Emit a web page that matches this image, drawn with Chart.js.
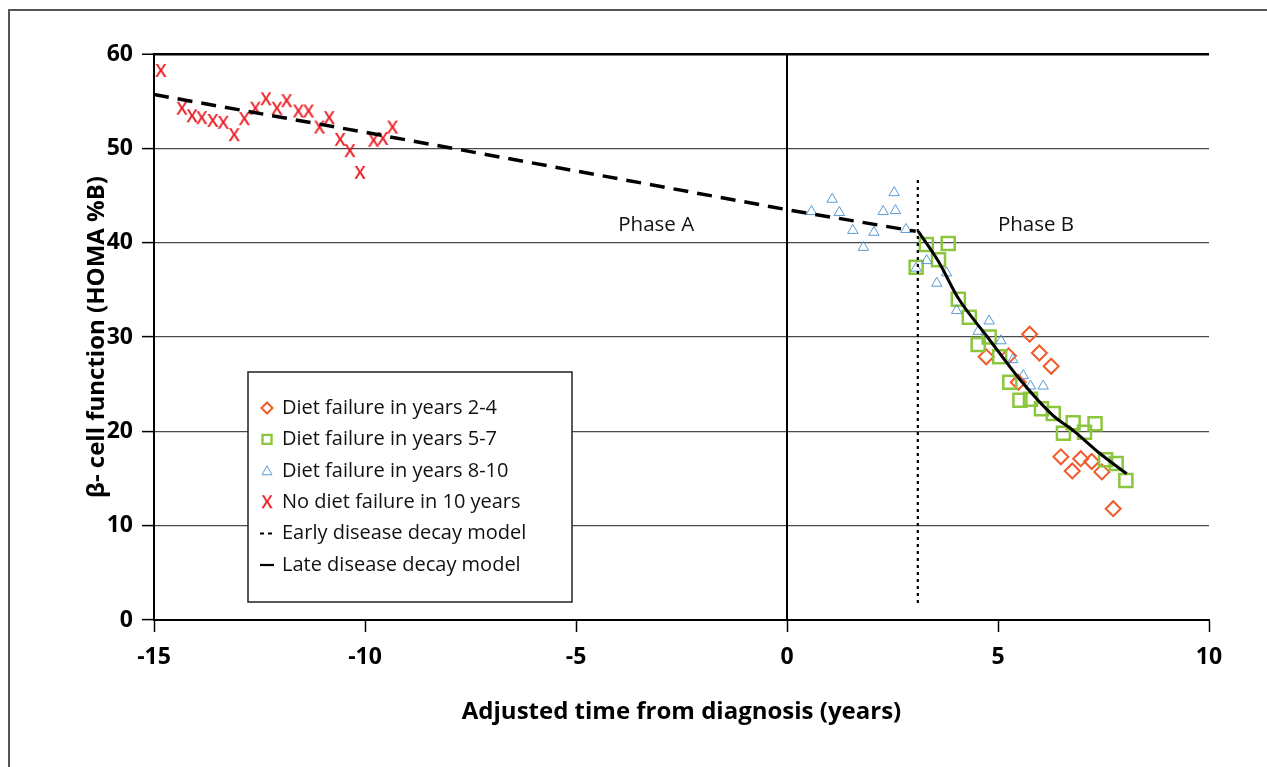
<!DOCTYPE html>
<html lang="en">
<head>
<meta charset="UTF-8" />
<title>Beta-cell function decay</title>
<script src="https://cdn.jsdelivr.net/npm/chart.js"></script>
<style>
  html, body { margin: 0; padding: 0; background: #fff; }
  #wrap { position: relative; width: 1267px; height: 767px; }
</style>
</head>
<body>
<div id="wrap"><canvas id="betaChart" width="1267" height="767"></canvas></div>
<script>
// values
const xTicks = [-15, -10, -5, 0, 5, 10];
const yTicks = [0, 10, 20, 30, 40, 50, 60];

const noFailX = [-14.84, -14.34, -14.10, -13.87, -13.61, -13.36, -13.10, -12.86, -12.60, -12.35, -12.09,
                 -11.86, -11.58, -11.34, -11.08, -10.85, -10.59, -10.36, -10.12, -9.80, -9.58, -9.35];
const noFailY = [58.2, 54.2, 53.4, 53.2, 52.9, 52.7, 51.4, 53.1, 54.2, 55.2, 54.2,
                 55.0, 53.9, 53.9, 52.2, 53.2, 50.9, 49.7, 47.4, 50.8, 51.0, 52.2];

const fail810X = [0.58, 1.07, 1.24, 1.56, 1.81, 2.06, 2.28, 2.54, 2.57, 2.82, 3.06,
                  3.31, 3.55, 3.78, 4.02, 4.53, 4.79, 5.07, 5.35, 5.60, 5.77, 6.07];
const fail810Y = [43.3, 44.6, 43.2, 41.3, 39.5, 41.1, 43.3, 45.3, 43.4, 41.4, 37.3,
                  38.1, 35.7, 36.8, 32.8, 30.6, 31.7, 29.6, 27.6, 25.9, 24.8, 24.8];

const fail57X = [3.06, 3.30, 3.59, 3.82, 4.06, 4.32, 4.53, 4.79, 5.04, 5.28, 5.52,
                 5.77, 6.03, 6.31, 6.55, 6.78, 7.05, 7.30, 7.55, 7.80, 8.03];
const fail57Y = [37.4, 39.8, 38.2, 39.9, 34.0, 32.1, 29.2, 30.0, 27.9, 25.2, 23.3,
                 23.4, 22.4, 21.9, 19.8, 20.9, 19.9, 20.8, 17.0, 16.6, 14.8];

const fail24X = [4.72, 5.25, 5.48, 5.75, 5.98, 6.26, 6.49, 6.76, 6.96, 7.22, 7.46, 7.73];
const fail24Y = [27.9, 28.0, 25.2, 30.3, 28.3, 26.9, 17.3, 15.8, 17.1, 16.8, 15.7, 11.8];

const earlyX = [-15, -10, -5, 0, 3.05];
const earlyY = [55.7, 51.7, 47.6, 43.5, 41.2];

const lateX = [3.11, 3.59, 4.06, 4.75, 5.5, 6.3, 6.78, 7.4, 8.05];
const lateY = [41.2, 38.0, 34.1, 30.0, 25.6, 21.7, 20.1, 17.7, 15.5];

const diagnosisX = [0, 0];
const diagnosisY = [0, 60];
const phaseSplitX = [3.1, 3.1];
const phaseSplitY = [1.8, 47];

const phaseLabels = ['Phase A', 'Phase B'];
const phaseLabelX = [-3.1, 5.9];
const phaseLabelY = [41.9, 41.9];

const seriesNames = ['Diet failure in years 2-4', 'Diet failure in years 5-7', 'Diet failure in years 8-10',
                     'No diet failure in 10 years', 'Early disease decay model', 'Late disease decay model'];

const pts = (xs, ys) => xs.map((x, i) => ({ x: x, y: ys[i] }));

// red letter X used as marker
function letterX() {
  const c = document.createElement('canvas');
  c.width = 16; c.height = 20;
  const g = c.getContext('2d');
  g.fillStyle = '#ed1c24';
  g.font = '600 18px "Open Sans"';
  g.textAlign = 'center';
  g.textBaseline = 'alphabetic';
  g.fillText('X', 8, 16.4);
  return c;
}
const xMark = letterX();

const ORANGE = '#f15a29', GREEN = '#8cc63f', BLUE = '#5b9bd5', RED = '#ed1c24';

function marker(c, kind, x, y) {
  c.save();
  c.beginPath();
  if (kind === 'diamond') {
    c.strokeStyle = ORANGE; c.lineWidth = 2;
    c.moveTo(x, y - 5.5); c.lineTo(x + 5.5, y); c.lineTo(x, y + 5.5); c.lineTo(x - 5.5, y); c.closePath();
    c.stroke();
  } else if (kind === 'square') {
    c.strokeStyle = GREEN; c.lineWidth = 2.4;
    c.rect(x - 4.5, y - 4.5, 9, 9);
    c.stroke();
  } else if (kind === 'triangle') {
    c.strokeStyle = BLUE; c.lineWidth = 1;
    c.moveTo(x, y - 5); c.lineTo(x + 5, y + 4); c.lineTo(x - 5, y + 4); c.closePath();
    c.stroke();
  } else if (kind === 'x') {
    c.drawImage(xMark, x - 8, y - 10);
  } else if (kind === 'dash') {
    c.strokeStyle = '#000'; c.lineWidth = 2;
    c.moveTo(260, y); c.lineTo(264, y); c.moveTo(268, y); c.lineTo(272, y);
    c.stroke();
  } else {
    c.strokeStyle = '#000'; c.lineWidth = 2.2;
    c.moveTo(260, y); c.lineTo(274, y);
    c.stroke();
  }
  c.restore();
}

const decor = {
  id: 'decor',
  beforeDraw(chart) {
    const c = chart.ctx;
    c.save();
    c.fillStyle = '#fff';
    c.fillRect(0, 0, chart.width, chart.height);
    c.strokeStyle = '#555';
    c.lineWidth = 2;
    c.beginPath();
    c.moveTo(9, chart.height); c.lineTo(9, 10); c.lineTo(chart.width, 10);
    c.stroke();
    c.restore();
  },
  afterDatasetsDraw(chart) {
    const c = chart.ctx, sx = chart.scales.x, sy = chart.scales.y;
    c.save();
    c.fillStyle = '#111';
    c.font = '20.5px "Open Sans"';
    c.textAlign = 'center';
    c.textBaseline = 'middle';
    phaseLabels.forEach((t, i) => c.fillText(t, sx.getPixelForValue(phaseLabelX[i]), sy.getPixelForValue(phaseLabelY[i])));
    c.restore();
  },
  afterDraw(chart) {
    const c = chart.ctx;
    c.save();
    c.fillStyle = '#fff';
    c.strokeStyle = '#222';
    c.lineWidth = 1.5;
    c.fillRect(248, 372, 324, 230);
    c.strokeRect(248, 372, 324, 230);
    const kinds = ['diamond', 'square', 'triangle', 'x', 'dash', 'line'];
    c.font = '20px "Open Sans"';
    c.textBaseline = 'middle';
    seriesNames.forEach((name, i) => {
      const y = 408 + i * 31.4;
      marker(c, kinds[i], 267, y);
      c.fillStyle = '#111';
      c.fillText(name, 282, y);
    });
    c.restore();
  }
};

const ctx = document.getElementById('betaChart').getContext('2d');
new Chart(ctx, {
  type: 'scatter',
  data: {
    datasets: [
      { label: seriesNames[5], data: pts(lateX, lateY), showLine: true, borderColor: '#000', borderWidth: 3,
        pointRadius: 0, tension: 0.4, cubicInterpolationMode: 'monotone', order: 0 },
      { label: seriesNames[4], data: pts(earlyX, earlyY), showLine: true, borderColor: '#000', borderWidth: 3.5,
        borderDash: [15, 9], pointRadius: 0, tension: 0, order: 0 },
      { label: 'diagnosis', data: pts(diagnosisX, diagnosisY), showLine: true, borderColor: '#000', borderWidth: 2,
        pointRadius: 0, order: 0 },
      { label: 'phase split', data: pts(phaseSplitX, phaseSplitY), showLine: true, borderColor: '#000', borderWidth: 2.2,
        borderDash: [3, 4], pointRadius: 0, order: 0 },
      { label: seriesNames[3], data: pts(noFailX, noFailY), pointStyle: xMark, pointRadius: 7, order: 1 },
      { label: seriesNames[2], data: pts(fail810X, fail810Y), pointStyle: 'triangle', pointRadius: 6,
        borderColor: BLUE, backgroundColor: 'rgba(0,0,0,0)', borderWidth: 1, order: 2 },
      { label: seriesNames[1], data: pts(fail57X, fail57Y), pointStyle: 'rect', pointRadius: 9.2,
        borderColor: GREEN, backgroundColor: 'rgba(0,0,0,0)', borderWidth: 2.5, order: 3 },
      { label: seriesNames[0], data: pts(fail24X, fail24Y), pointStyle: 'rectRot', pointRadius: 7.5,
        borderColor: ORANGE, backgroundColor: 'rgba(0,0,0,0)', borderWidth: 2, order: 4 }
    ]
  },
  options: {
    responsive: false,
    animation: false,
    devicePixelRatio: 1,
    layout: { padding: { left: 0, top: 54, right: 58, bottom: 0 } },
    plugins: { legend: { display: false }, tooltip: { enabled: false } },
    scales: {
      x: {
        type: 'linear', min: -15, max: 10,
        afterBuildTicks: s => { s.ticks = xTicks.map(v => ({ value: v })); },
        afterFit: s => { s.height = 147; },
        grid: { drawOnChartArea: false, drawTicks: true, tickLength: 12, tickColor: '#000', tickWidth: 1.5 },
        border: { display: true, color: '#000', width: 2 },
        ticks: { color: '#000', padding: 12, font: { family: 'Open Sans', size: 23, weight: 'bold' } },
        title: { display: true, text: 'Adjusted time from diagnosis (years)', color: '#000',
                 font: { family: 'Open Sans', size: 24, weight: 'bold' }, padding: { top: 0, bottom: 40 } }
      },
      y: {
        type: 'linear', min: 0, max: 60,
        afterBuildTicks: s => { s.ticks = yTicks.map(v => ({ value: v })); },
        afterFit: s => { s.width = 154; },
        grid: {
          color: c => (c.tick && c.tick.value === 60) ? '#000' : '#4a4a4a',
          lineWidth: c => (c.tick && c.tick.value === 60) ? 2.5 : 1.2,
          tickLength: 12, tickColor: '#000', tickWidth: 1.5
        },
        border: { display: true, color: '#000', width: 2 },
        ticks: { color: '#000', padding: 9, font: { family: 'Open Sans', size: 23, weight: 'bold' } },
        title: { display: true, text: 'β- cell function (HOMA %B)', color: '#000',
                 font: { family: 'Open Sans', size: 24, weight: 'bold' }, padding: { top: 83, bottom: 0 } }
      }
    }
  },
  plugins: [decor]
});
</script>
</body>
</html>
